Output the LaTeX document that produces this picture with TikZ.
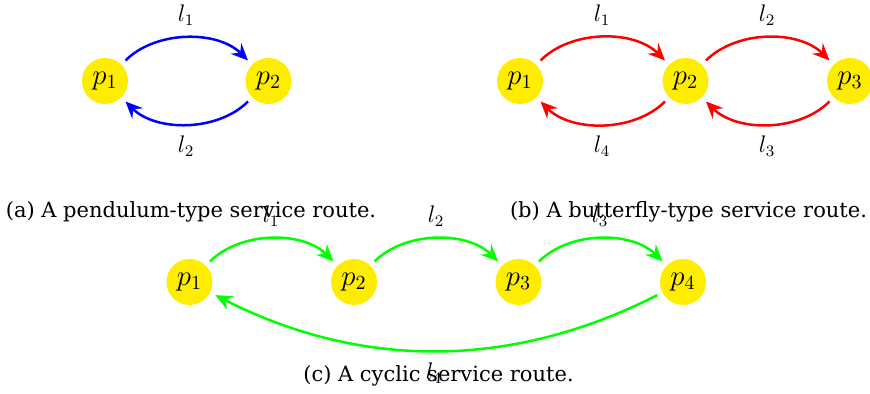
\documentclass[tikz,border=0pt]{standalone}
\usepackage{fontspec}
\setmainfont{DejaVu Serif}
\usetikzlibrary{arrows.meta}
\definecolor{nodeyellow}{RGB}{255,237,0}
\begin{document}
\begin{tikzpicture}[x=0.5pt,y=-0.5pt,
  place/.style={circle,fill=nodeyellow,minimum size=23pt,inner sep=0pt,outer sep=3pt,font=\fontsize{14.5}{16}\selectfont},
  lab/.style={font=\fontsize{12}{14}\selectfont,inner sep=0pt},
  captxt/.style={font=\fontsize{10.5}{12}\selectfont,inner sep=0pt},
  route/.style={line width=1.25pt,-{Stealth[length=8.5pt,width=7.5pt,inset=3pt]}},
  arc/.style={bend left=45,looseness=0.9},
]
\useasboundingbox (0,0) rectangle (870,394);
% (a)
\node[place] (a1) at (105,81) {$p_1$};
\node[place] (a2) at (268.5,81) {$p_2$};
\draw[route,blue] (a1) to[arc] (a2);
\draw[route,blue] (a2) to[arc] (a1);
\node[lab] (al1) at (186,15) {$l_1$};
\node[lab] (al2) at (186,146) {$l_2$};
\node[captxt] (capa) at (191,212) {(a) A pendulum-type service route.};
% (b)
\node[place] (b1) at (520,81) {$p_1$};
\node[place] (b2) at (685.5,81) {$p_2$};
\node[place] (b3) at (850,81) {$p_3$};
\draw[route,red] (b1) to[arc] (b2);
\draw[route,red] (b2) to[arc] (b3);
\draw[route,red] (b3) to[arc] (b2);
\draw[route,red] (b2) to[arc] (b1);
\node[lab] (bl1) at (602,15) {$l_1$};
\node[lab] (bl2) at (767,15) {$l_2$};
\node[lab] (bl3) at (767,146) {$l_3$};
\node[lab] (bl4) at (602,146) {$l_4$};
\node[captxt] (capb) at (688.5,212) {(b) A butterfly-type service route.};
% (c)
\node[place] (c1) at (189.5,282) {$p_1$};
\node[place] (c2) at (354,282) {$p_2$};
\node[place] (c3) at (518.5,282) {$p_3$};
\node[place] (c4) at (683,282) {$p_4$};
\draw[route,green] (c1) to[arc] (c2);
\draw[route,green] (c2) to[arc] (c3);
\draw[route,green] (c3) to[arc] (c4);
\draw[route,green] (c4) to[bend left=27,looseness=0.95] (c1);
\node[captxt] (capc) at (438.5,376) {(c) A cyclic service route.};
\node[lab] (cl1) at (271,216) {$l_1$};
\node[lab] (cl2) at (436,216) {$l_2$};
\node[lab] (cl3) at (600,216) {$l_3$};
\node[lab] (cl4) at (434,373) {$l_4$};
\end{tikzpicture}
\end{document}
